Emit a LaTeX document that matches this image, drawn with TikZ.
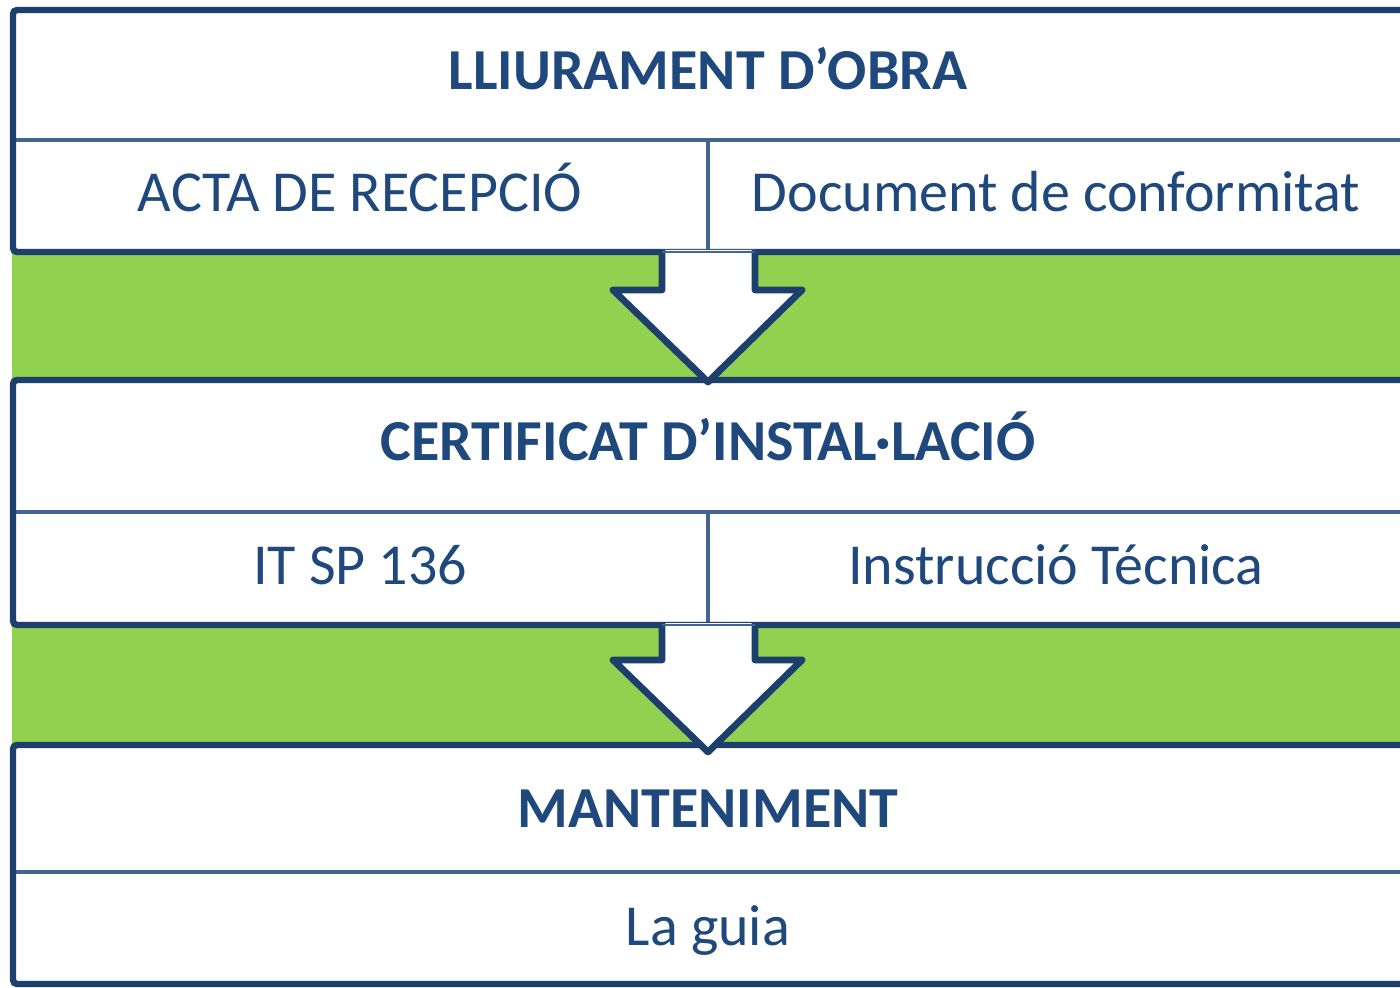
\documentclass[tikz,border=0pt]{standalone}
\usepackage{fontspec}
\setmainfont{Carlito}
\definecolor{navy}{HTML}{1F497D}
\definecolor{deepnavy}{HTML}{1C3F6E}
\definecolor{leaf}{HTML}{92D050}

\begin{document}
\begin{tikzpicture}[x=0.5pt, y=-0.5pt,
    head/.style={font=\fontsize{29}{35}\selectfont\bfseries, text=navy, anchor=base, inner sep=0pt},
    cell/.style={font=\fontsize{29}{35}\selectfont, text=navy, anchor=base, inner sep=0pt},
    frame/.style={draw=deepnavy, line width=3.2pt, rounded corners=2pt},
    rule/.style={draw=navy!85!white, line width=1.6pt},
    downarrow/.style={fill=white, draw=deepnavy, line width=3.4pt, line join=round}]
  \useasboundingbox (0, 0) rectangle (1400, 988);
  \clip (0, 0) rectangle (1400, 988);

  \fill [leaf] (12, 252) rectangle (1400, 380);
  \fill [leaf] (12, 625) rectangle (1400, 745);

  \fill [white] (13, 10) rectangle (1420, 252);
  \draw [rule] (13, 140) -- (1420, 140);
  \draw [rule] (708, 140) -- (708, 252);
  \draw [frame] (1420, 10) -- (13, 10) -- (13, 252) -- (1420, 252);

  \fill [white] (13, 380) rectangle (1420, 625);
  \draw [rule] (13, 512) -- (1420, 512);
  \draw [rule] (708, 512) -- (708, 625);
  \draw [frame] (1420, 380) -- (13, 380) -- (13, 625) -- (1420, 625);

  \fill [white] (13, 745) rectangle (1420, 984);
  \draw [rule] (13, 872) -- (1420, 872);
  \draw [frame] (1420, 745) -- (13, 745) -- (13, 984) -- (1420, 984);

  \filldraw [downarrow] (662, 250) -- (662, 290) -- (613, 290) -- (708, 382)
    -- (802, 290) -- (755, 290) -- (755, 250);
  \draw [rule, line width=1pt] (662, 252) -- (755, 252);
  \filldraw [downarrow] (662, 623) -- (662, 660) -- (613, 660) -- (708, 752)
    -- (802, 660) -- (755, 660) -- (755, 623);
  \draw [rule, line width=1pt] (662, 625) -- (755, 625);

  \node [head] (obra) at (708, 90) {LLIURAMENT D’OBRA};
  \node [cell] (acta) at (360, 212) {ACTA DE RECEPCIÓ};
  \node [cell] (conformitat) at (1056, 212) {Document de conformitat};
  \node [head] (certificat) at (708, 460) {CERTIFICAT D’INSTAL·LACIÓ};
  \node [cell] (itsp) at (360, 584) {IT SP 136};
  \node [cell] (instruccio) at (1056, 584) {Instrucció Técnica};
  \node [head] (manteniment) at (708, 827) {MANTENIMENT};
  \node [cell] (guia) at (708, 945) {La guia};
\end{tikzpicture}
\end{document}
